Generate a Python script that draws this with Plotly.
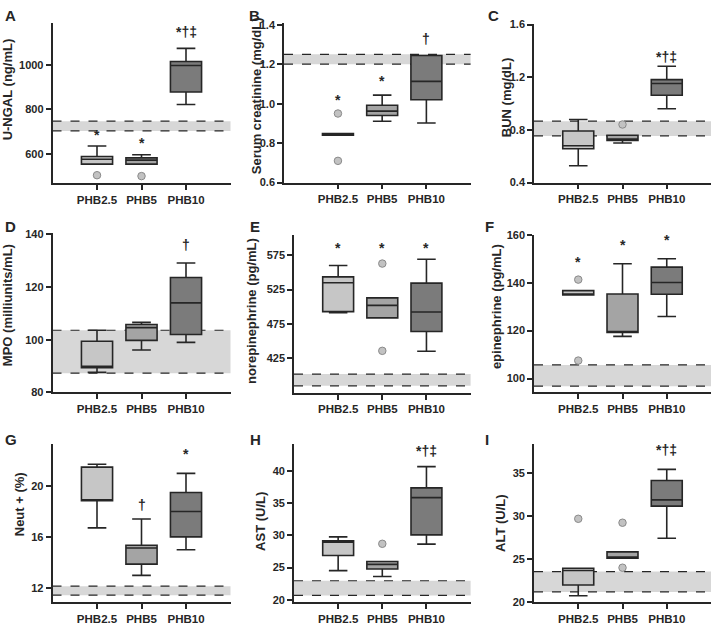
import plotly.graph_objects as go

categories = ["PHB2.5", "PHB5", "PHB10"]

# ---- A: U-NGAL (ng/mL)
ngal_lower = [554, 554, 822]
ngal_q1 = [554, 554, 878]
ngal_median = [576, 572, 997]
ngal_q3 = [588, 582, 1015]
ngal_upper = [635, 596, 1074]
ngal_out_x = ["PHB2.5", "PHB5"]
ngal_out_y = [504, 500]
ngal_ref = [703, 747]
ngal_sig_x = ["PHB2.5", "PHB5", "PHB10"]
ngal_sig = ["*", "*", "*†‡"]
ngal_sig_y = [703, 665, 1147]
ngal_ticks = [600, 800, 1000]

# ---- B: Serum creatinine (mg/dL)
creat_lower = [0.840, 0.911, 0.902]
creat_q1 = [0.840, 0.940, 1.020]
creat_median = [0.845, 0.962, 1.113]
creat_q3 = [0.848, 0.992, 1.244]
creat_upper = [0.848, 1.043, 1.244]
creat_out_x = ["PHB2.5", "PHB2.5"]
creat_out_y = [0.95, 0.71]
creat_ref = [1.20, 1.25]
creat_sig_x = ["PHB2.5", "PHB5", "PHB10"]
creat_sig = ["*", "*", "†"]
creat_sig_y = [1.04, 1.135, 1.33]
creat_ticks = [0.6, 0.8, 1.0, 1.2, 1.4]

# ---- C: BUN (mg/dL)
bun_lower = [0.528, 0.700, 0.961]
bun_q1 = [0.657, 0.719, 1.063]
bun_median = [0.680, 0.730, 1.152]
bun_q3 = [0.792, 0.759, 1.182]
bun_upper = [0.879, 0.759, 1.284]
bun_out_x = ["PHB5"]
bun_out_y = [0.841]
bun_ref = [0.754, 0.866]
bun_sig_x = ["PHB10"]
bun_sig = ["*†‡"]
bun_sig_y = [1.356]
bun_ticks = [0.4, 0.8, 1.2, 1.6]

# ---- D: MPO (milliunits/mL)
mpo_lower = [87.6, 96.1, 99.0]
mpo_q1 = [89.4, 99.75, 102.0]
mpo_median = [89.9, 104.6, 114.0]
mpo_q3 = [99.4, 105.8, 123.6]
mpo_upper = [103.6, 106.6, 129.1]
mpo_out_x = []
mpo_out_y = []
mpo_ref = [87.3, 103.6]
mpo_sig_x = ["PHB10"]
mpo_sig = ["†"]
mpo_sig_y = [136]
mpo_ticks = [80, 100, 120, 140]

# ---- E: norepinephrine (pg/mL)
norepi_lower = [491.4, 483.7, 435.0]
norepi_q1 = [492.8, 483.7, 463.7]
norepi_median = [534.9, 501.9, 492.3]
norepi_q3 = [543.5, 512.9, 534.4]
norepi_upper = [560.2, 512.9, 569.3]
norepi_out_x = ["PHB5", "PHB5"]
norepi_out_y = [563, 435.5]
norepi_ref = [384.4, 401.6]
norepi_sig_x = ["PHB2.5", "PHB5", "PHB10"]
norepi_sig = ["*", "*", "*"]
norepi_sig_y = [592, 592, 592]
norepi_ticks = [425, 475, 525, 575]

# ---- F: epinephrine (pg/mL)
epi_lower = [134.9, 117.6, 125.9]
epi_q1 = [134.9, 119.2, 135.2]
epi_median = [135.3, 119.5, 140.1]
epi_q3 = [136.7, 135.3, 146.5]
epi_upper = [136.7, 147.9, 150.0]
epi_out_x = ["PHB2.5", "PHB2.5"]
epi_out_y = [141.3, 107.5]
epi_ref = [96.8, 105.7]
epi_sig_x = ["PHB2.5", "PHB5", "PHB10"]
epi_sig = ["*", "*", "*"]
epi_sig_y = [150.5, 157.5, 159.6]
epi_ticks = [100, 120, 140, 160]

# ---- G: Neut + (%)
neut_lower = [16.71, 12.97, 14.99]
neut_q1 = [18.84, 13.85, 16.0]
neut_median = [18.9, 15.12, 18.0]
neut_q3 = [21.49, 15.34, 19.49]
neut_upper = [21.72, 17.40, 21.0]
neut_out_x = []
neut_out_y = []
neut_ref = [11.41, 12.12]
neut_sig_x = ["PHB2.5", "PHB5", "PHB10"]
neut_sig = ["*", "†", "*"]
neut_sig_y = [23.55, 18.5, 22.8]
neut_ticks = [12, 16, 20]

# ---- H: AST (U/L)
ast_lower = [24.53, 23.61, 28.65]
ast_q1 = [26.87, 24.78, 30.08]
ast_median = [28.96, 25.5, 35.88]
ast_q3 = [29.16, 25.95, 37.4]
ast_upper = [29.77, 25.95, 40.7]
ast_out_x = ["PHB5"]
ast_out_y = [28.7]
ast_ref = [20.66, 22.95]
ast_sig_x = ["PHB10"]
ast_sig = ["*†‡"]
ast_sig_y = [43.2]
ast_ticks = [20, 25, 30, 35, 40]

# ---- I: ALT (U/L)
alt_lower = [20.73, 25.11, 27.44]
alt_q1 = [21.98, 25.11, 31.18]
alt_median = [23.67, 25.2, 31.9]
alt_q3 = [23.93, 25.84, 34.16]
alt_upper = [23.93, 25.84, 35.46]
alt_out_x = ["PHB2.5", "PHB5", "PHB5"]
alt_out_y = [29.7, 29.24, 24.0]
alt_ref = [21.18, 23.55]
alt_sig_x = ["PHB10"]
alt_sig = ["*†‡"]
alt_sig_y = [37.7]
alt_ticks = [20, 25, 30, 35]

panel_letters = ["A", "B", "C", "D", "E", "F", "G", "H", "I"]
axis_titles = ["U-NGAL (ng/mL)", "Serum creatinine (mg/dL)", "BUN (mg/dL)",
               "MPO (milliunits/mL)", "norepinephrine (pg/mL)", "epinephrine (pg/mL)",
               "Neut + (%)", "AST (U/L)", "ALT (U/L)"]

# ---------------- layout geometry (pixels in a 711x625 page) ----------------
W, H = 711, 625
FONT = "Liberation Sans, Arial, sans-serif"
INK = "#262626"
box_fills = ["#c6c6c6", "#a4a4a4", "#7b7b7b"]

stats = [
    (ngal_lower, ngal_q1, ngal_median, ngal_q3, ngal_upper, ngal_out_x, ngal_out_y, ngal_ref, ngal_sig_x, ngal_sig, ngal_sig_y, ngal_ticks, "d"),
    (creat_lower, creat_q1, creat_median, creat_q3, creat_upper, creat_out_x, creat_out_y, creat_ref, creat_sig_x, creat_sig, creat_sig_y, creat_ticks, ".1f"),
    (bun_lower, bun_q1, bun_median, bun_q3, bun_upper, bun_out_x, bun_out_y, bun_ref, bun_sig_x, bun_sig, bun_sig_y, bun_ticks, ".1f"),
    (mpo_lower, mpo_q1, mpo_median, mpo_q3, mpo_upper, mpo_out_x, mpo_out_y, mpo_ref, mpo_sig_x, mpo_sig, mpo_sig_y, mpo_ticks, "d"),
    (norepi_lower, norepi_q1, norepi_median, norepi_q3, norepi_upper, norepi_out_x, norepi_out_y, norepi_ref, norepi_sig_x, norepi_sig, norepi_sig_y, norepi_ticks, "d"),
    (epi_lower, epi_q1, epi_median, epi_q3, epi_upper, epi_out_x, epi_out_y, epi_ref, epi_sig_x, epi_sig, epi_sig_y, epi_ticks, "d"),
    (neut_lower, neut_q1, neut_median, neut_q3, neut_upper, neut_out_x, neut_out_y, neut_ref, neut_sig_x, neut_sig, neut_sig_y, neut_ticks, "d"),
    (ast_lower, ast_q1, ast_median, ast_q3, ast_upper, ast_out_x, ast_out_y, ast_ref, ast_sig_x, ast_sig, ast_sig_y, ast_ticks, "d"),
    (alt_lower, alt_q1, alt_median, alt_q3, alt_upper, alt_out_x, alt_out_y, alt_ref, alt_sig_x, alt_sig, alt_sig_y, alt_ticks, "d"),
]

# x domain (px), x range, y domain (px top, bottom), y range
geom = [
    ((52.5, 230.5), [-1, 3], (17.3, 180.7), [468, 1188]),
    ((284, 470.6), [-1.22, 3], (17.5, 180), [0.6, 1.408]),
    ((534, 711), [-1, 3], (18.3, 180), [0.4, 1.605]),
    ((52.5, 230.5), [-1, 3], (231.7, 394), [80, 140.4]),
    ((294, 470.6), [-1, 3], (233.3, 394.3), [374.3, 605]),
    ((534, 711), [-1, 3], (233.3, 394), [94.2, 160]),
    ((52.5, 230.5), [-1, 3], (446.7, 607.7), [10.87, 23.3]),
    ((294, 470.6), [-1, 3], (446.7, 607.7), [19.64, 44.2]),
    ((534, 711), [-1, 3], (446.7, 607.7), [20, 38.4]),
]
letter_pos = [(3, 10), (247, 10), (486, 10), (3, 225), (248, 225), (483, 225),
              (3, 442), (248, 442), (483, 442)]
title_pos = [(7, 85), (256, 92), (506, 94), (7, 305), (251, 311), (496, 307),
             (19, 508), (261, 526), (501, 527)]

px = lambda p: p / W
py = lambda p: 1 - p / H

fig = go.Figure()
layout = dict(width=W, height=H, margin=dict(l=0, r=0, t=0, b=0),
              plot_bgcolor="white", paper_bgcolor="white", showlegend=False,
              font=dict(family=FONT, color=INK), shapes=[], annotations=[])

for i, (st, gm) in enumerate(zip(stats, geom)):
    lo, q1, med, q3, up, ox, oy, ref, sx, stext, sy, ticks, fmt = st
    (x0, x1), xr, (yt, yb), yr = gm
    sfx = "" if i == 0 else str(i + 1)
    xa, ya = "x" + sfx, "y" + sfx
    for j, cat in enumerate(categories):
        fig.add_trace(go.Box(
            x=[cat], q1=[q1[j]], median=[med[j]], q3=[q3[j]],
            lowerfence=[lo[j]], upperfence=[up[j]],
            width=0.7, whiskerwidth=0.6, boxpoints=False,
            fillcolor=box_fills[j], line=dict(color=INK, width=1.6),
            xaxis=xa, yaxis=ya, hoverinfo="skip"))
    if ox:
        fig.add_trace(go.Scatter(
            x=ox, y=oy, mode="markers", xaxis=xa, yaxis=ya, hoverinfo="skip",
            marker=dict(size=7.5, color="#c2c2c2", line=dict(color="#8a8a8a", width=1))))
    # reference band
    layout["shapes"].append(dict(type="rect", xref=xa + " domain", yref=ya,
                                 x0=0, x1=1, y0=ref[0], y1=ref[1],
                                 fillcolor="#d7d7d7", line=dict(width=0), layer="below"))
    for v in ref:
        layout["shapes"].append(dict(type="line", xref=xa + " domain", yref=ya,
                                     x0=0, x1=1, y0=v, y1=v, layer="below",
                                     line=dict(color=INK, width=1.2, dash="dash")))
    # significance marks
    for cx, t, yy in zip(sx, stext, sy):
        layout["annotations"].append(dict(
            x=cx, y=yy, xref=xa, yref=ya, text="<b>" + t + "</b>", showarrow=False,
            xanchor="center", yanchor="middle", yshift=-4 if t == "*" else 0,
            font=dict(size=14, color=INK, family=FONT)))
    # axes
    layout["xaxis" + sfx] = dict(
        domain=[px(x0), px(x1)], anchor=ya, type="category",
        categoryorder="array", categoryarray=categories, range=xr,
        showline=True, linecolor=INK, linewidth=1.6, ticks="outside",
        ticklen=5, tickwidth=1.5, tickcolor=INK, showgrid=False, zeroline=False,
        tickfont=dict(family=FONT, size=11.5, color=INK, weight="bold"), fixedrange=True)
    layout["yaxis" + sfx] = dict(
        domain=[py(yb), py(yt)], anchor=xa, range=yr,
        tickmode="array", tickvals=ticks, tickformat=fmt,
        showline=True, linecolor=INK, linewidth=1.6, ticks="outside",
        ticklen=5, tickwidth=1.5, tickcolor=INK, showgrid=False, zeroline=False,
        tickfont=dict(family=FONT, size=11, color=INK, weight="bold"), fixedrange=True)
    # panel letter
    lx, ly = letter_pos[i]
    layout["annotations"].append(dict(
        x=px(lx), y=py(ly), xref="paper", yref="paper", text="<b>" + panel_letters[i] + "</b>",
        showarrow=False, xanchor="left", yanchor="middle",
        font=dict(size=15, color=INK, family=FONT)))
    # axis title
    tx, ty = title_pos[i]
    layout["annotations"].append(dict(
        x=px(tx), y=py(ty), xref="paper", yref="paper", text="<b>" + axis_titles[i] + "</b>",
        showarrow=False, xanchor="center", yanchor="middle", textangle=-90,
        font=dict(size=13, color=INK, family=FONT)))

fig.update_layout(**layout)
fig.write_html("out.html", config={"displayModeBar": False},
               post_script="document.body.style.margin='0';document.body.style.overflow='hidden';")
